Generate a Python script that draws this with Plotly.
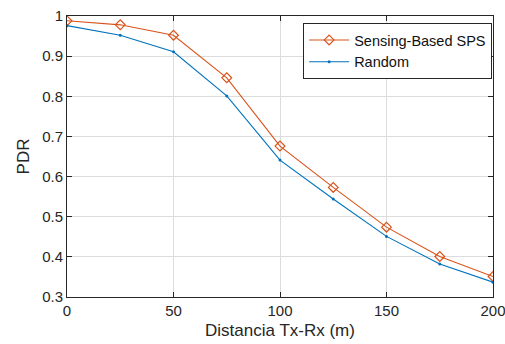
import plotly.graph_objects as go

distance = [0, 25, 50, 75, 100, 125, 150, 175, 200]
sensing_pdr = [0.988, 0.978, 0.952, 0.846, 0.676, 0.573, 0.474, 0.401, 0.351]
random_pdr = [0.976, 0.952, 0.911, 0.801, 0.641, 0.544, 0.451, 0.382, 0.337]

FONT = "Liberation Sans, Arial"
fig = go.Figure()
fig.add_trace(go.Scatter(
    x=distance, y=sensing_pdr, name="Sensing-Based SPS", mode="lines+markers",
    line=dict(color="#D95319", width=1.1),
    marker=dict(symbol="diamond-open", size=7.5, color="#D95319", line=dict(width=1.2, color="#D95319")),
))
fig.add_trace(go.Scatter(
    x=distance, y=random_pdr, name="Random", mode="lines+markers",
    line=dict(color="#0072BD", width=1.1),
    marker=dict(symbol="circle", size=3, color="#0072BD"),
))

axis_common = dict(
    showline=True, linecolor="#262626", linewidth=1, mirror="ticks",
    ticks="inside", ticklen=5, tickcolor="#262626",
    showgrid=True, gridcolor="#dcdcdc", gridwidth=1,
    zeroline=False, automargin=False, ticklabeloverflow="allow",
    tickfont=dict(family=FONT, size=15, color="#262626"),
)
fig.update_xaxes(range=[0, 200], tickvals=[0, 50, 100, 150, 200],
                 title=dict(text="Distancia Tx-Rx (m)", font=dict(family=FONT, size=17, color="#262626"), standoff=6),
                 **axis_common)
fig.update_yaxes(range=[0.3, 1.0], tickvals=[0.3, 0.4, 0.5, 0.6, 0.7, 0.8, 0.9, 1.0],
                 ticktext=["0.3", "0.4", "0.5", "0.6", "0.7", "0.8", "0.9", "1"],
                 title=dict(text="PDR", font=dict(family=FONT, size=17, color="#262626"), standoff=8),
                 **axis_common)

fig.update_layout(
    width=505, height=344,
    margin=dict(l=67, r=12, t=16, b=47),
    paper_bgcolor="white", plot_bgcolor="white",
    showlegend=True,
    legend=dict(x=0.998, y=0.975, xanchor="right", yanchor="top",
                bgcolor="white", bordercolor="#262626", borderwidth=1,
                font=dict(family=FONT, size=14.5, color="#111111"),
                tracegroupgap=0, itemwidth=40),
)
fig.write_html("out.html")
